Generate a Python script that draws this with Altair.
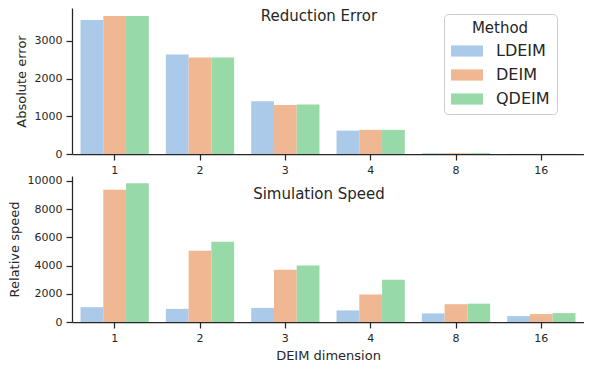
import altair as alt
import pandas as pd

dims = ["1", "2", "3", "4", "8", "16"]
methods = ["LDEIM", "DEIM", "QDEIM"]

err_ldeim = [3550, 2640, 1400, 620, 20, 4]
err_deim = [3660, 2560, 1300, 640, 22, 4]
err_qdeim = [3660, 2560, 1310, 640, 22, 4]

spd_ldeim = [1050, 930, 1000, 820, 610, 420]
spd_deim = [9370, 5050, 3700, 1950, 1260, 560]
spd_qdeim = [9830, 5680, 4000, 3000, 1300, 630]

err_ticks = [0, 1000, 2000, 3000]
spd_ticks = [0, 2000, 4000, 6000, 8000, 10000]

colors = ["#abc9e9", "#efb792", "#98daa7"]
FONT = "DejaVu Sans"
INK = "#262626"


def frame(series):
    rows = []
    for m, vals in zip(methods, series):
        for d, v in zip(dims, vals):
            rows.append({"dim": d, "method": m, "value": v})
    return pd.DataFrame(rows)


err_df = frame([err_ldeim, err_deim, err_qdeim])
spd_df = frame([spd_ldeim, spd_deim, spd_qdeim])

W = 512


def panel(df, ytitle, ymax, yticks, title, title_y, xtitle, legend, height):
    x_kwargs = dict(
        sort=dims,
        scale=alt.Scale(paddingInner=0.2, paddingOuter=0.1),
        axis=alt.Axis(labelAngle=0),
    )
    if xtitle is None:
        x_enc = alt.X("dim:N", title=None, **x_kwargs)
    else:
        x_enc = alt.X("dim:N", title=xtitle, **x_kwargs)
    color_kwargs = dict(sort=methods, scale=alt.Scale(domain=methods, range=colors))
    if legend is None:
        c_enc = alt.Color("method:N", legend=None, **color_kwargs)
    else:
        c_enc = alt.Color("method:N", legend=legend, **color_kwargs)
    bars = alt.Chart(df).mark_bar().encode(
        x=x_enc,
        xOffset=alt.XOffset("method:N", sort=methods,
                            scale=alt.Scale(paddingInner=0, paddingOuter=0)),
        y=alt.Y("value:Q", title=ytitle,
                scale=alt.Scale(domain=[0, ymax], nice=False, zero=True),
                axis=alt.Axis(values=yticks, format="d")),
        color=c_enc,
    )
    txt = alt.Chart(pd.DataFrame({"t": [title]})).mark_text(
        font=FONT, fontSize=15, color=INK, align="center", baseline="alphabetic"
    ).encode(x=alt.value(247), y=alt.value(title_y), text="t:N")
    return alt.layer(bars, txt).properties(width=W, height=height)


legend = alt.Legend(
    title="Method",
    orient="none",
    legendX=372,
    legendY=6,
    titleFontSize=15,
    titleFont=FONT,
    titleFontWeight="normal",
    titleColor=INK,
    titleAnchor="middle",
    titlePadding=7,
    labelFontSize=16,
    labelFont=FONT,
    labelColor=INK,
    labelOffset=21,
    symbolType="M-2,-0.7H2V0.7H-2Z",
    symbolSize=256,
    symbolOffset=8,
    symbolStrokeWidth=0,
    symbolOpacity=1,
    rowPadding=8,
    padding=7,
    fillColor="white",
    strokeColor="#cccccc",
    cornerRadius=4,
)

top = panel(err_df, "Absolute error", 3870, err_ticks, "Reduction Error", 13, None, legend, 146)
bottom = panel(spd_df, "Relative speed", 10340, spd_ticks, "Simulation Speed", 23,
               "DEIM dimension", None, 146)

chart = alt.vconcat(top, bottom, spacing=22, bounds="flush").properties(
    padding=0
).configure_view(stroke=None).configure_axis(
    grid=False,
    domainColor=INK,
    tickColor=INK,
    labelColor=INK,
    titleColor=INK,
    domainWidth=1.25,
    tickWidth=1.25,
    tickSize=6,
    labelFont=FONT,
    titleFont=FONT,
    labelFontSize=11,
    titleFontSize=13,
    titleFontWeight="normal",
    labelPadding=4,
    titlePadding=6,
)

chart.save("out.html", embed_options={"renderer": "svg", "actions": False})
